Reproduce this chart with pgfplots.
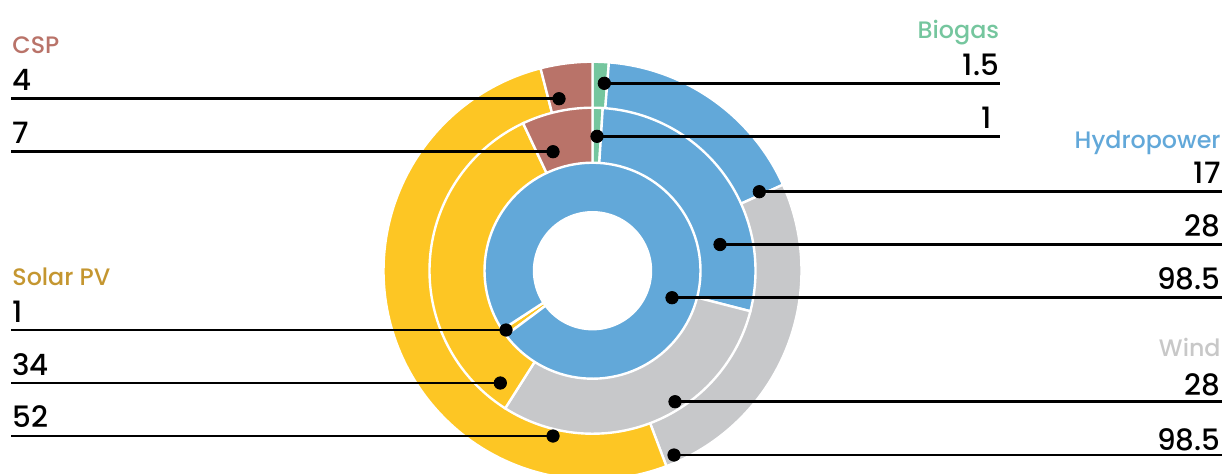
\documentclass[border=0pt]{standalone}
\usepackage{pgfplots}
\pgfplotsset{compat=1.18}
\usepackage{fontspec}
\setmainfont{Poppins}[UprightFont={* Medium}]

\definecolor{cBlue}{RGB}{98,168,217}
\definecolor{cGray}{RGB}{199,200,202}
\definecolor{cYellow}{RGB}{253,198,36}
\definecolor{cCSP}{RGB}{185,115,105}
\definecolor{cGreen}{RGB}{117,198,158}
\definecolor{tSolar}{RGB}{196,150,48}
\definecolor{tWind}{RGB}{200,200,200}

% shares of each ring, in % of the full circle
% outer ring
\def\oBio{1.25}\def\oHyd{17}\def\oWin{26}\def\oSol{51.75}\def\oCSP{4}
% middle ring
\def\mBio{1}\def\mHyd{28}\def\mWin{30}\def\mSol{34}\def\mCSP{7}
% inner ring (starts with Solar PV at 233.3 deg, clockwise from the top)
\def\iStart{233.3}\def\iSol{1}\def\iHyd{99}

\pgfmathsetmacro\OA{3.6*\oBio}
\pgfmathsetmacro\OB{\OA+3.6*\oHyd}
\pgfmathsetmacro\OC{\OB+3.6*\oWin}
\pgfmathsetmacro\OD{\OC+3.6*\oSol}
\pgfmathsetmacro\OE{\OD+3.6*\oCSP}
\pgfmathsetmacro\MA{3.6*\mBio}
\pgfmathsetmacro\MB{\MA+3.6*\mHyd}
\pgfmathsetmacro\MC{\MB+3.6*\mWin}
\pgfmathsetmacro\MD{\MC+3.6*\mSol}
\pgfmathsetmacro\ME{\MD+3.6*\mCSP}
\pgfmathsetmacro\IA{\iStart+3.6*\iSol}
\pgfmathsetmacro\IB{\IA+3.6*\iHyd}

\def\cx{592.5}\def\cy{270.7}
% wedge: start angle, end angle, radius, colour
\newcommand{\seg}[4]{%
  \addplot[fill=#4, draw=white, line width=1.2pt, domain=#1:#2, samples=120, variable=\t]
    ({\cx+#3*sin(\t)},{\cy-#3*cos(\t)}) -- (axis cs:\cx,\cy) -- cycle;}

\newcommand{\numfont}{\fontsize{14.7}{16}\selectfont}
\newcommand{\catfont}{\fontsize{11.9}{14}\selectfont}

\begin{document}
\begin{tikzpicture}
\begin{axis}[
  x=0.5pt, y=0.5pt,
  xmin=0, xmax=1224, ymin=0, ymax=473,
  y dir=reverse,
  axis line style={draw=none},
  xtick=\empty, ytick=\empty,
  clip=true,
]
% outer ring
\seg{0}{\OA}{209}{cGreen}
\seg{\OA}{\OB}{209}{cBlue}
\seg{\OB}{\OC}{209}{cGray}
\seg{\OC}{\OD}{209}{cYellow}
\seg{\OD}{\OE}{209}{cCSP}
% middle ring
\seg{0}{\MA}{163}{cGreen}
\seg{\MA}{\MB}{163}{cBlue}
\seg{\MB}{\MC}{163}{cGray}
\seg{\MC}{\MD}{163}{cYellow}
\seg{\MD}{\ME}{163}{cCSP}
% inner ring
\seg{\iStart}{\IA}{108}{cYellow}
\seg{\IA}{\IB}{108}{cBlue}
% hole
\addplot[fill=white, draw=white, line width=1.2pt, domain=0:360, samples=120, variable=\t]
  ({\cx+58.5*sin(\t)},{\cy-58.5*cos(\t)}) -- cycle;

% leader lines
\pgfplotsset{leader/.style={black, line width=1.25pt, forget plot}}
\addplot[leader] coordinates {(11,98.7) (559,98.7)};
\addplot[leader] coordinates {(11,151.7) (553,151.7)};
\addplot[leader] coordinates {(604.3,83.3) (1000,83.3)};
\addplot[leader] coordinates {(597,136.3) (1000,136.3)};
\addplot[leader] coordinates {(759.3,191.7) (1222,191.7)};
\addplot[leader] coordinates {(720,244.5) (1222,244.5)};
\addplot[leader] coordinates {(672,297.7) (1222,297.7)};
\addplot[leader] coordinates {(11,330) (506,330)};
\addplot[leader] coordinates {(11,383) (500.3,383)};
\addplot[leader] coordinates {(11,436) (553,436)};
\addplot[leader] coordinates {(675,401.7) (1222,401.7)};
\addplot[leader] coordinates {(674,455) (1222,455)};
% dots
\addplot[only marks, mark=*, mark size=3.1pt, black] coordinates {
 (559,98.7) (553,151.7) (604.3,83.3) (597,136.3) (759.3,191.7) (720,244.5)
 (672,297.7) (506,330) (500.3,383) (553,436) (675,401.7) (674,455)};

% labels left
\node[anchor=base west, text=cCSP, font=\catfont, inner sep=0pt] at (axis cs:12,53.3) {CSP};
\node[anchor=base west, font=\numfont, inner sep=0pt] at (axis cs:12,90.7) {4};
\node[anchor=base west, font=\numfont, inner sep=0pt] at (axis cs:12,143.3) {7};
\node[anchor=base west, text=tSolar, font=\catfont, inner sep=0pt] at (axis cs:12,285) {Solar PV};
\node[anchor=base west, font=\numfont, inner sep=0pt] at (axis cs:12,322.7) {1};
\node[anchor=base west, font=\numfont, inner sep=0pt] at (axis cs:12,375) {34};
\node[anchor=base west, font=\numfont, inner sep=0pt] at (axis cs:12,427.3) {52};
% labels right
\node[anchor=base east, text=cGreen, font=\catfont, inner sep=0pt] at (axis cs:999.5,38.3) {Biogas};
\node[anchor=base east, font=\numfont, inner sep=0pt] at (axis cs:999.5,75) {1.5};
\node[anchor=base east, font=\numfont, inner sep=0pt] at (axis cs:992,128.3) {1};
\node[anchor=base east, text=cBlue, font=\catfont, inner sep=0pt] at (axis cs:1221,148.3) {Hydropower};
\node[anchor=base east, font=\numfont, inner sep=0pt] at (axis cs:1221,183.3) {17};
\node[anchor=base east, font=\numfont, inner sep=0pt] at (axis cs:1221,236.7) {28};
\node[anchor=base east, font=\numfont, inner sep=0pt] at (axis cs:1221,289.3) {98.5};
\node[anchor=base east, text=tWind, font=\catfont, inner sep=0pt] at (axis cs:1221,356.7) {Wind};
\node[anchor=base east, font=\numfont, inner sep=0pt] at (axis cs:1221,395) {28};
\node[anchor=base east, font=\numfont, inner sep=0pt] at (axis cs:1221,450) {98.5};
\end{axis}
\end{tikzpicture}
\end{document}
